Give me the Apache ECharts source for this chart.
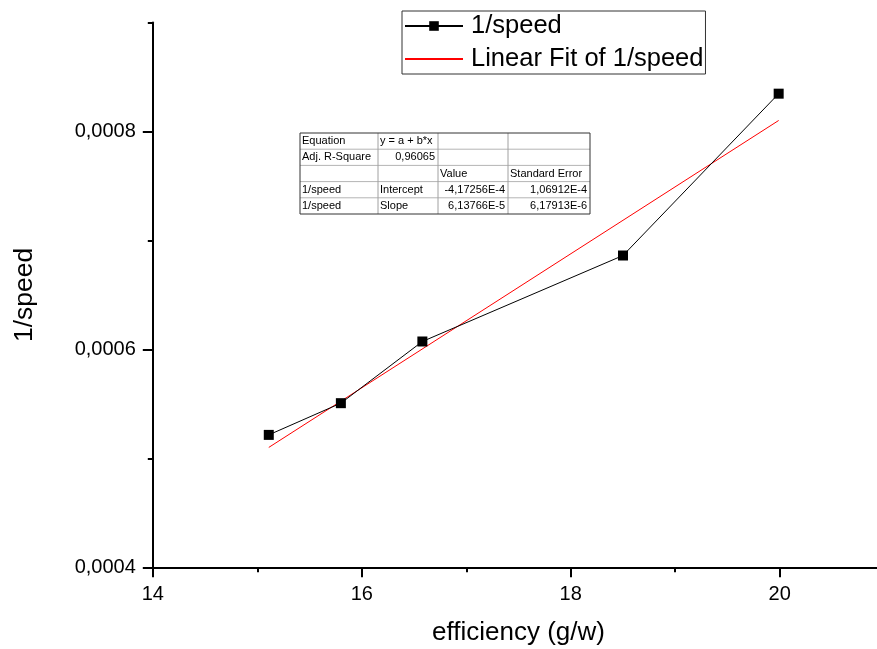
<!DOCTYPE html>
<html>
<head>
<meta charset="utf-8">
<script src="https://cdn.jsdelivr.net/npm/echarts@6/dist/echarts.min.js"></script>
<style>
html,body{margin:0;padding:0;background:#fff;}
#chart{width:877px;height:649px;}
</style>
</head>
<body>
<div id="chart"></div>
<script>
// ---- data ----
var efficiency = [15.11, 15.80, 16.58, 18.50, 19.99];
var invSpeed = [0.0005215, 0.0005506, 0.0006072, 0.0006861, 0.0008346];
var fitX = [15.11, 19.99];
var fitY = [0.000510, 0.000810];
var seriesNames = ['1/speed', 'Linear Fit of 1/speed'];
var xMajorTicks = [14, 16, 18, 20];
var xTickLabels = ['14', '16', '18', '20'];
var yMajorTicks = [0.0004, 0.0006, 0.0008];
var yTickLabels = ['0,0004', '0,0006', '0,0008'];
var xTitle = 'efficiency (g/w)';
var yTitle = '1/speed';
var tableRows = [
  ['Equation', 'y = a + b*x', '', ''],
  ['Adj. R-Square', '0,96065', '', ''],
  ['', '', 'Value', 'Standard Error'],
  ['1/speed', 'Intercept', '-4,17256E-4', '1,06912E-4'],
  ['1/speed', 'Slope', '6,13766E-5', '6,17913E-6']
];
var tableRightAligned = [[1,1],[3,2],[3,3],[4,2],[4,3]];

// ---- helpers ----
function labelFor(values, labels) {
  return function (v) {
    for (var i = 0; i < values.length; i++) {
      if (Math.abs(v - values[i]) < 1e-9) return labels[i];
    }
    return '';
  };
}
function zip(a, b) { return a.map(function (v, i) { return [v, b[i]]; }); }

var FONT = '"Liberation Sans", Arial, sans-serif';

// table graphic (annotation box)
var colEdges = [300, 378, 438, 508, 590];
var rowTop = 133, rowH = 16.2;
var tableEls = [];
tableEls.push({type: 'rect', shape: {x: colEdges[0], y: rowTop, width: colEdges[4]-colEdges[0], height: rowH*5},
  style: {fill: '#fff', stroke: 'none'}, z: 10});
for (var r = 1; r < 5; r++) {
  tableEls.push({type: 'line', shape: {x1: colEdges[0], y1: rowTop + r*rowH, x2: colEdges[4], y2: rowTop + r*rowH},
    style: {stroke: '#b4b4b4', lineWidth: 1}, z: 11});
}
for (var c = 1; c < 4; c++) {
  tableEls.push({type: 'line', shape: {x1: colEdges[c], y1: rowTop, x2: colEdges[c], y2: rowTop + 5*rowH},
    style: {stroke: '#a0a0a0', lineWidth: 1}, z: 11});
}
tableEls.push({type: 'rect', shape: {x: colEdges[0], y: rowTop, width: colEdges[4]-colEdges[0], height: rowH*5},
  style: {fill: 'none', stroke: '#333', lineWidth: 1}, z: 12});
tableRows.forEach(function (row, ri) {
  row.forEach(function (txt, ci) {
    if (!txt) return;
    var right = tableRightAligned.some(function (p) { return p[0] === ri && p[1] === ci; });
    tableEls.push({type: 'text', z: 13,
      x: right ? colEdges[ci+1] - 3 : colEdges[ci] + 2,
      y: rowTop + ri*rowH + rowH/2,
      style: {text: txt, fill: '#000', font: '11px ' + FONT, align: right ? 'right' : 'left', verticalAlign: 'middle'}});
  });
});

var chart = echarts.init(document.getElementById('chart'), null, {renderer: 'canvas'});
var axisLineStyle = {color: '#000', width: 2};
var option = {
  backgroundColor: '#fff',
  animation: false,
  textStyle: {fontFamily: FONT},
  grid: {left: 152.8, right: -7.2, top: 22.4, bottom: 81.7, containLabel: false, outerBoundsMode: 'none'},
  legend: {
    orient: 'vertical', left: 402, top: 11,
    padding: [1, 2, 1, 2], itemGap: 5,
    itemWidth: 58, itemHeight: 12,
    borderColor: '#333', borderWidth: 1,
    textStyle: {fontSize: 25.5, color: '#000', lineHeight: 28, fontFamily: FONT, padding: [0, 0, 0, 3]},
    data: [{name: seriesNames[0]}, {name: seriesNames[1]}]
  },
  xAxis: [{
    type: 'value', min: 14, max: 21, interval: 1,
    name: xTitle, nameLocation: 'middle', nameGap: 53,
    nameTextStyle: {fontSize: 26, color: '#000', fontFamily: FONT},
    axisLine: {show: true, onZero: false, lineStyle: axisLineStyle},
    axisTick: {show: true, length: 5, lineStyle: {color: '#000', width: 2}},
    axisLabel: {show: true, customValues: xMajorTicks, formatter: labelFor(xMajorTicks, xTickLabels),
      fontSize: 20, color: '#000', margin: 17, fontFamily: FONT},
    splitLine: {show: false}
  }, {
    type: 'value', min: 14, max: 21, position: 'bottom',
    axisLine: {show: false, onZero: false},
    axisTick: {show: true, length: 10, customValues: xMajorTicks, lineStyle: {color: '#000', width: 2}},
    axisLabel: {show: false},
    splitLine: {show: false}
  }],
  yAxis: [{
    type: 'value', min: 0.0004, max: 0.0009, interval: 0.0001,
    name: yTitle, nameLocation: 'middle', nameGap: 115, nameRotate: 90,
    nameTextStyle: {fontSize: 26.5, color: '#000', fontFamily: FONT},
    axisLine: {show: true, onZero: false, lineStyle: axisLineStyle},
    axisTick: {show: true, length: 5, lineStyle: {color: '#000', width: 2}},
    axisLabel: {show: true, customValues: yMajorTicks, formatter: labelFor(yMajorTicks, yTickLabels),
      fontSize: 20, color: '#000', margin: 17, fontFamily: FONT},
    splitLine: {show: false}
  }, {
    type: 'value', min: 0.0004, max: 0.0009, position: 'left',
    axisLine: {show: false, onZero: false},
    axisTick: {show: true, length: 10, customValues: yMajorTicks, lineStyle: {color: '#000', width: 2}},
    axisLabel: {show: false},
    splitLine: {show: false}
  }],
  graphic: tableEls,
  series: [{
    name: seriesNames[0], type: 'line', xAxisIndex: 0, yAxisIndex: 0,
    data: zip(efficiency, invSpeed),
    symbol: 'rect', symbolSize: 10,
    itemStyle: {color: '#000'},
    lineStyle: {color: '#000', width: 1},
    z: 3
  }, {
    name: seriesNames[1], type: 'line', xAxisIndex: 0, yAxisIndex: 0,
    data: zip(fitX, fitY),
    symbol: 'circle', showSymbol: false,
    itemStyle: {color: 'rgba(0,0,0,0)'},
    lineStyle: {color: '#ff0000', width: 1},
    z: 2
  }]
};
chart.setOption(option);
</script>
</body>
</html>
